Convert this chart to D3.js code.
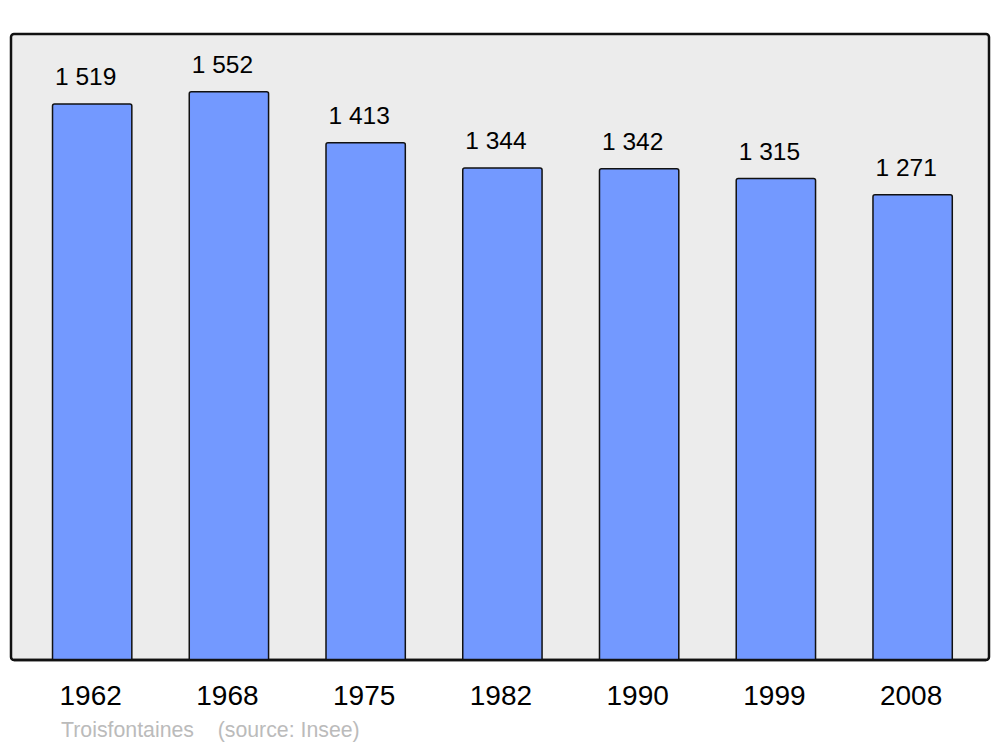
<!DOCTYPE html>
<html><head><meta charset="utf-8">
<script src="https://cdn.jsdelivr.net/npm/d3@7"></script>
<style>body{margin:0;background:#fff}svg{display:block}</style>
</head><body>
<script>
const years = ["1962","1968","1975","1982","1990","1999","2008"];
const population = [1519,1552,1413,1344,1342,1315,1271];
const valueLabels = ["1 519","1 552","1 413","1 344","1 342","1 315","1 271"];
const caption = "Troisfontaines    (source: Insee)";

const W = 1000, H = 747;
const svg = d3.select("body").append("svg").attr("width", W).attr("height", H);
const font = "'Liberation Sans', Arial, sans-serif";

const panel = {x0: 11, y0: 34, x1: 989, y1: 660};
svg.append("rect").attr("x", panel.x0).attr("y", panel.y0)
  .attr("width", panel.x1 - panel.x0).attr("height", panel.y1 - panel.y0)
  .attr("rx", 3).attr("fill", "#ececec").attr("stroke", "#111").attr("stroke-width", 2.5);

const x = d3.scaleBand().domain(years).range([23.8, 981]).paddingInner(0.42).paddingOuter(0.21);
const y = d3.scaleLinear().domain([0, 1710]).range([panel.y1, panel.y0]);

const data = years.map((yr, i) => ({yr, v: population[i], lbl: valueLabels[i]}));

function barPath(x0, y0, w, h, r) {
  return `M${x0},${y0+h} L${x0},${y0+r} Q${x0},${y0} ${x0+r},${y0} L${x0+w-r},${y0} Q${x0+w},${y0} ${x0+w},${y0+r} L${x0+w},${y0+h}`;
}

svg.append("g").selectAll("path").data(data).join("path")
  .attr("d", d => barPath(x(d.yr), y(d.v), x.bandwidth(), panel.y1 - y(d.v), 2))
  .attr("fill", "#7399ff").attr("stroke", "#111").attr("stroke-width", 1.5);

svg.append("line").attr("x1", panel.x0 + 3).attr("x2", panel.x1 - 3)
  .attr("y1", panel.y1).attr("y2", panel.y1).attr("stroke", "#111").attr("stroke-width", 2.5);

svg.append("g").selectAll("text").data(data).join("text")
  .attr("x", d => x(d.yr) + x.bandwidth()/2 - 6.5)
  .attr("y", d => y(d.v) - 18.5)
  .attr("text-anchor", "middle").attr("font-family", font).attr("font-size", 24.5)
  .attr("fill", "#000").text(d => d.lbl);

svg.append("g").selectAll("text").data(data).join("text")
  .attr("x", d => x(d.yr) + x.bandwidth()/2 - 1.5)
  .attr("y", 705)
  .attr("text-anchor", "middle").attr("font-family", font).attr("font-size", 28)
  .attr("fill", "#000").text(d => d.yr);

svg.append("text").attr("x", 61).attr("y", 737)
  .attr("font-family", font).attr("font-size", 21.3).attr("fill", "#bbb")
  .attr("xml:space", "preserve").style("white-space", "pre").text(caption);
</script>
</body></html>
